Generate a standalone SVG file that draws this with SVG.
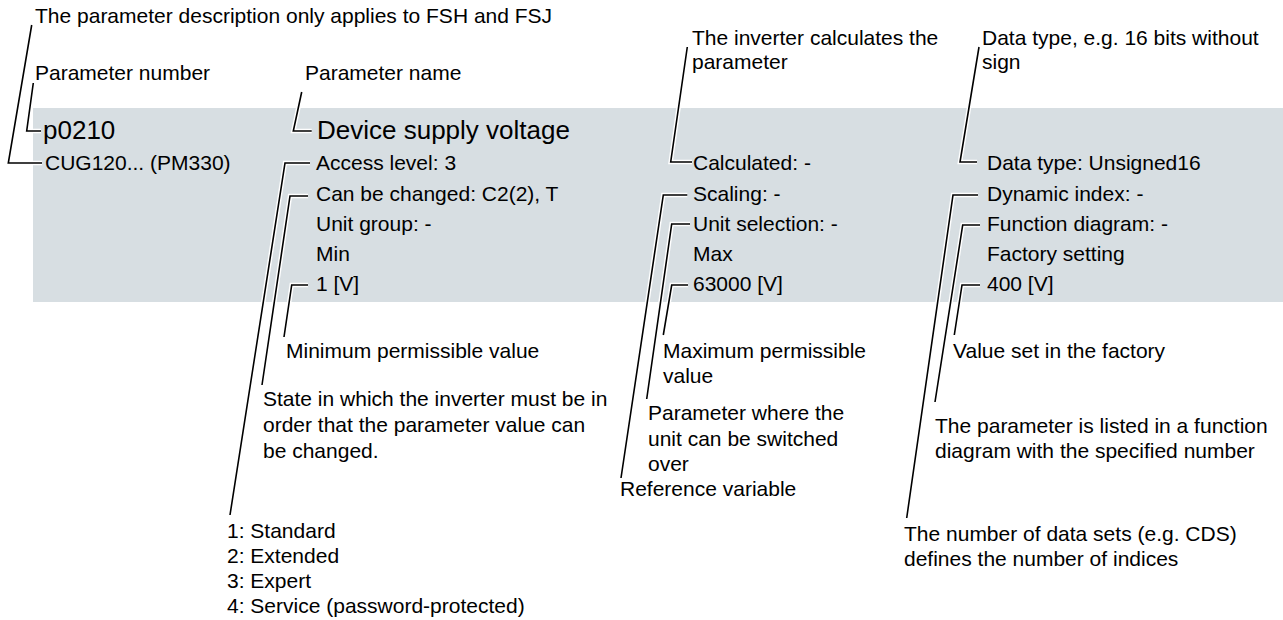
<svg xmlns="http://www.w3.org/2000/svg" width="1283" height="620" viewBox="0 0 1283 620">
<style>
text{font-family:"Liberation Sans",Arial,sans-serif;font-size:21px;fill:#000}
.big{font-size:26px}
.halo{fill:none;stroke:#fff;stroke-width:4.5;stroke-linejoin:miter}
.lead{fill:none;stroke:#000;stroke-width:1.6;stroke-linejoin:miter}
</style>
<defs>
<path id="c1" d="M31.7,25 L8.3,163 L42,163"/>
<path id="c2" d="M33.3,83 L26.7,131 L41,131"/>
<path id="c3" d="M301.7,92 L293.3,131 L311.7,131"/>
<path id="c4" d="M230,515 L285,163 L310,163"/>
<path id="c5" d="M262,385 L290,196 L308,196"/>
<path id="c6" d="M284,337 L291.7,285 L308,285"/>
<path id="c7" d="M687.3,47 L670.7,162 L692,162"/>
<path id="c8" d="M621,478 L663.3,195 L687.3,195"/>
<path id="c9" d="M646.7,399 L671.7,224 L690,224"/>
<path id="c10" d="M663.3,335 L671.7,285 L688,285"/>
<path id="c11" d="M979,47 L960,162 L977,162"/>
<path id="c12" d="M906.7,518 L953,195 L978,195"/>
<path id="c13" d="M935,402 L962.7,225 L980,225"/>
<path id="c14" d="M954.3,335 L962,285 L980,285"/>
</defs>
<rect id="band" x="33" y="108" width="1250" height="194" fill="#d7dee2"/>
<g id="connectors">
<use href="#c1" class="halo"/><use href="#c1" class="lead"/>
<use href="#c2" class="halo"/><use href="#c2" class="lead"/>
<use href="#c3" class="halo"/><use href="#c3" class="lead"/>
<use href="#c4" class="halo"/><use href="#c4" class="lead"/>
<use href="#c5" class="halo"/><use href="#c5" class="lead"/>
<use href="#c6" class="halo"/><use href="#c6" class="lead"/>
<use href="#c7" class="halo"/><use href="#c7" class="lead"/>
<use href="#c8" class="halo"/><use href="#c8" class="lead"/>
<use href="#c9" class="halo"/><use href="#c9" class="lead"/>
<use href="#c10" class="halo"/><use href="#c10" class="lead"/>
<use href="#c11" class="halo"/><use href="#c11" class="lead"/>
<use href="#c12" class="halo"/><use href="#c12" class="lead"/>
<use href="#c13" class="halo"/><use href="#c13" class="lead"/>
<use href="#c14" class="halo"/><use href="#c14" class="lead"/>
</g>
<g id="note-fsh"><text x="35" y="23">The parameter description only applies to FSH and FSJ</text></g>
<g id="note-number"><text x="35" y="80">Parameter number</text></g>
<g id="note-name"><text x="305" y="80">Parameter name</text></g>
<g id="note-calc"><text x="692" y="45">The inverter calculates the</text><text x="692" y="69">parameter</text></g>
<g id="note-dtype"><text x="982" y="45">Data type, e.g. 16 bits without</text><text x="982" y="69">sign</text></g>
<g id="param-col1">
<text class="big" x="43" y="139">p0210</text>
<text x="45" y="170">CUG120... (PM330)</text>
</g>
<g id="param-col2">
<text class="big" x="317" y="139">Device supply voltage</text>
<text x="316" y="170">Access level: 3</text>
<text x="316" y="201">Can be changed: C2(2), T</text>
<text x="316" y="231">Unit group: -</text>
<text x="316" y="261">Min</text>
<text x="316" y="291">1 [V]</text>
</g>
<g id="param-col3">
<text x="693" y="170">Calculated: -</text>
<text x="693" y="201">Scaling: -</text>
<text x="693" y="231">Unit selection: -</text>
<text x="693" y="261">Max</text>
<text x="693" y="291">63000 [V]</text>
</g>
<g id="param-col4">
<text x="987" y="170">Data type: Unsigned16</text>
<text x="987" y="201">Dynamic index: -</text>
<text x="987" y="231">Function diagram: -</text>
<text x="987" y="261">Factory setting</text>
<text x="987" y="291">400 [V]</text>
</g>
<g id="note-min"><text x="286" y="358">Minimum permissible value</text></g>
<g id="note-state"><text x="263" y="406">State in which the inverter must be in</text><text x="263" y="432">order that the parameter value can</text><text x="263" y="458">be changed.</text></g>
<g id="note-access"><text x="227" y="538">1: Standard</text><text x="227" y="563">2: Extended</text><text x="227" y="588">3: Expert</text><text x="227" y="613">4: Service (password-protected)</text></g>
<g id="note-max"><text x="663" y="358">Maximum permissible</text><text x="663" y="383">value</text></g>
<g id="note-unit"><text x="648" y="420">Parameter where the</text><text x="648" y="446">unit can be switched</text><text x="648" y="471">over</text></g>
<g id="note-ref"><text x="620" y="496">Reference variable</text></g>
<g id="note-factory"><text x="953" y="358">Value set in the factory</text></g>
<g id="note-fdiag"><text x="935" y="433">The parameter is listed in a function</text><text x="935" y="458">diagram with the specified number</text></g>
<g id="note-dyn"><text x="904" y="541">The number of data sets (e.g. CDS)</text><text x="904" y="566">defines the number of indices</text></g>
</svg>
